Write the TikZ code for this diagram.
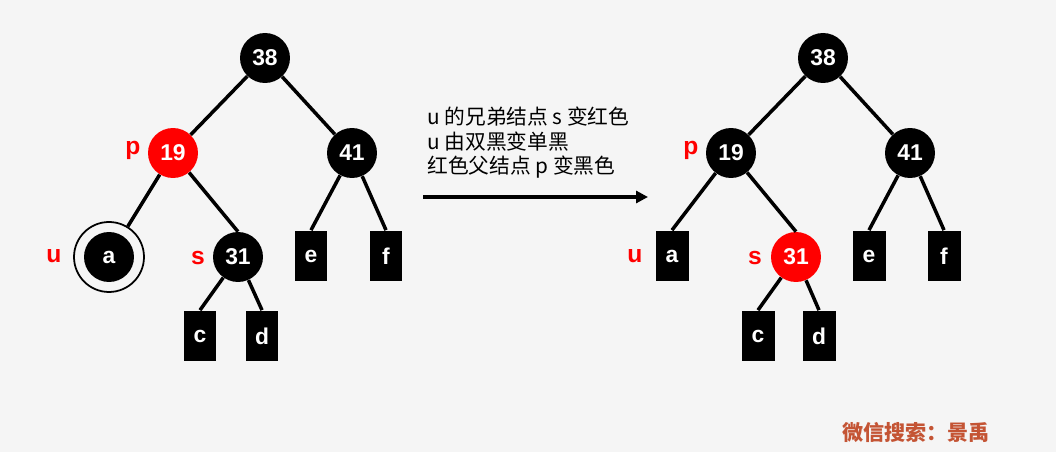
\documentclass[tikz,border=0pt]{standalone}
\usepackage{fontspec}
\setmainfont{Liberation Sans}
\newfontfamily\cjk{Noto Sans CJK SC}
\usetikzlibrary{arrows.meta}

\definecolor{bggray}{RGB}{245,245,245}
\definecolor{wmred}{RGB}{196,84,52}

\tikzset{
  blk/.style={circle, fill=black, minimum size=1cm, inner sep=0pt, text=white,
    font=\bfseries\fontsize{13}{15}\selectfont},
  rd/.style={blk, fill=red},
  dblk/.style={circle, draw=black, line width=1pt, minimum size=1.4cm, inner sep=0pt,
    text=white, font=\bfseries\fontsize{13}{15}\selectfont,
    path picture={\fill[black] (path picture bounding box.center) circle (0.5cm);}},
  nil/.style={rectangle, fill=black, minimum width=0.66cm, minimum height=1.02cm,
    inner sep=0pt, text=white, font=\bfseries\fontsize{13}{15}\selectfont},
  tag/.style={text=red, font=\bfseries\fontsize{14}{16}\selectfont},
  branch/.style={line width=2pt},
  note/.style={anchor=west, inner sep=0pt, font=\cjk\fontsize{11.8}{13}\selectfont}
}

\begin{document}
\begin{tikzpicture}[x=0.02cm, y=-0.02cm]
    % Background
    \fill[bggray] (0,0) rectangle (1056,452);
    \useasboundingbox (0,0) rectangle (1056,452);

    % Left tree (before)
    \node[blk] (L38) at (265,58) {38};
    \node[rd]  (L19) at (173,153) {19};
    \node[blk] (L41) at (352,153) {41};
    \node[dblk] (La) at (109,257) {a};
    \node[blk] (L31) at (238,257) {31};
    \node[nil] (Le) at (311,256) {e};
    \node[nil] (Lf) at (386,256) {f};
    \node[nil] (Lc) at (200,336) {c};
    \node[nil] (Ld) at (262,336) {d};

    \draw[branch] (L38) -- (L19);
    \draw[branch] (L38) -- (L41);
    \draw[branch] (L19) -- (La);
    \draw[branch] (L19) -- (L31.north);
    \draw[branch] (L41) -- (Le.north);
    \draw[branch] (L41) -- (Lf.north);
    \draw[branch] (L31) -- (Lc.north);
    \draw[branch] (L31) -- (Ld.north);

    \node[tag] (Lp) at (133,150) {p};
    \node[tag] (Lu) at (54,256) {u};
    \node[tag] (Ls) at (198,258) {s};

    % Arrow with the steps
    \node[note] (t1) at (427,117) {u 的兄弟结点 s 变红色};
    \node[note] (t2) at (427,142) {u 由双黑变单黑};
    \node[note] (t3) at (427,167) {红色父结点 p 变黑色};
    \coordinate (from) at (423,197);
    \coordinate (to) at (648,197);
    \draw[line width=2.4pt, -{Triangle[length=0.24cm, width=0.24cm]}] (from) -- (to);

    % Right tree (after)
    \node[blk] (R38) at (823,58) {38};
    \node[blk] (R19) at (731,153) {19};
    \node[blk] (R41) at (910,153) {41};
    \node[nil] (Ra) at (672,256) {a};
    \node[rd]  (R31) at (796,257) {31};
    \node[nil] (Re) at (869,256) {e};
    \node[nil] (Rf) at (944,256) {f};
    \node[nil] (Rc) at (758,336) {c};
    \node[nil] (Rd) at (819,336) {d};

    \draw[branch] (R38) -- (R19);
    \draw[branch] (R38) -- (R41);
    \draw[branch] (R19) -- (Ra.north);
    \draw[branch] (R19) -- (R31.north);
    \draw[branch] (R41) -- (Re.north);
    \draw[branch] (R41) -- (Rf.north);
    \draw[branch] (R31) -- (Rc.north);
    \draw[branch] (R31) -- (Rd.north);

    \node[tag] (Rp) at (691,150) {p};
    \node[tag] (Ru) at (635,256) {u};
    \node[tag] (Rs) at (755,258) {s};

    % Watermark
    \node[text=wmred, font=\cjk\bfseries\fontsize{12}{14}\selectfont] (wm) at (916,432) {微信搜索：景禹};
\end{tikzpicture}
\end{document}
